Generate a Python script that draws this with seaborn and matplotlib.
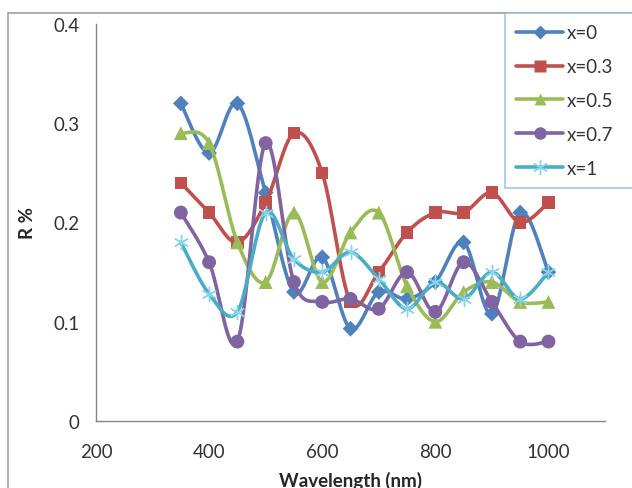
import numpy as np
import pandas as pd
import matplotlib
matplotlib.use("Agg")
import matplotlib.pyplot as plt
from matplotlib.lines import Line2D
import seaborn as sns

sns.set_theme(style="white")
plt.rcParams['font.family'] = ['Lato', 'DejaVu Sans']

# data
wavelength = [350, 400, 450, 500, 550, 600, 650, 700, 750, 800, 850, 900, 950, 1000]
r_x0 = [0.32, 0.27, 0.32, 0.23, 0.13, 0.165, 0.093, 0.13, 0.123, 0.14, 0.18, 0.108, 0.21, 0.15]
r_x03 = [0.24, 0.21, 0.18, 0.22, 0.29, 0.25, 0.12, 0.15, 0.19, 0.21, 0.21, 0.23, 0.20, 0.22]
r_x05 = [0.29, 0.28, 0.18, 0.14, 0.21, 0.14, 0.19, 0.21, 0.136, 0.10, 0.13, 0.14, 0.12, 0.12]
r_x07 = [0.21, 0.16, 0.08, 0.28, 0.14, 0.12, 0.123, 0.113, 0.15, 0.11, 0.16, 0.12, 0.08, 0.08]
r_x1 = [0.18, 0.128, 0.11, 0.21, 0.163, 0.15, 0.17, 0.143, 0.113, 0.14, 0.123, 0.15, 0.123, 0.15]

labels = ["x=0", "x=0.3", "x=0.5", "x=0.7", "x=1"]
series = [r_x0, r_x03, r_x05, r_x07, r_x1]
colors = ["#4F81BD", "#C0504D", "#9BBB59", "#8064A2", "#4BACC6"]
markers = ["D", "s", "^", "o", (6, 2, 0)]
msizes = [8, 9, 10, 10, 11]


def smooth(xs, ys, n=20):
    """Catmull-Rom curve through the points (Excel-like smoothed line)."""
    xs = np.asarray(xs, float)
    ys = np.asarray(ys, float)
    px = np.concatenate([[xs[0]], xs, [xs[-1]]])
    py = np.concatenate([[ys[0]], ys, [ys[-1]]])
    ox, oy = [], []
    t = np.linspace(0, 1, n, endpoint=False)
    for i in range(1, len(px) - 2):
        for p, o in ((px, ox), (py, oy)):
            p0, p1, p2, p3 = p[i - 1], p[i], p[i + 1], p[i + 2]
            c1 = p1 + (p2 - p0) / 6
            c2 = p2 - (p3 - p1) / 6
            o.extend((1 - t) ** 3 * p1 + 3 * (1 - t) ** 2 * t * c1
                     + 3 * (1 - t) * t ** 2 * c2 + t ** 3 * p2)
    ox.append(xs[-1])
    oy.append(ys[-1])
    return np.array(ox), np.array(oy)


fig = plt.figure(figsize=(6.32, 4.89), dpi=100)
ax = fig.add_axes([96 / 632, 67 / 489, 509 / 632, 397 / 489])

for i, (lab, ys) in enumerate(zip(labels, series)):
    sx, sy = smooth(wavelength, ys)
    curve = pd.DataFrame({"x": sx, "y": sy})
    sns.lineplot(data=curve, x="x", y="y", ax=ax, color=colors[i], lw=2.6,
                 sort=False, estimator=None, zorder=2 + i)
    pts = pd.DataFrame({"x": wavelength, "y": ys})
    if i == 4:
        ax.plot(pts["x"], pts["y"], ls="none", marker=markers[i], ms=msizes[i],
                mec="#8ad4e8", mew=1.0, zorder=2 + i)
    else:
        sns.scatterplot(data=pts, x="x", y="y", ax=ax, marker=markers[i],
                        color=colors[i], s=msizes[i] ** 2, edgecolor="none",
                        zorder=2 + i)

ax.set_xlim(200, 1100)
ax.set_ylim(0, 0.4)
ax.set_xticks([200, 400, 600, 800, 1000])
ax.set_yticks([0, 0.1, 0.2, 0.3, 0.4])
ax.set_yticklabels(["0", "0.1", "0.2", "0.3", "0.4"])
ax.tick_params(axis="both", which="both", direction="out", length=5, width=1,
               color="#868686", labelsize=13.5, labelcolor="#333333", pad=7)
ax.tick_params(axis="x", pad=11)
for s in ["top", "right"]:
    ax.spines[s].set_visible(False)
for s in ["left", "bottom"]:
    ax.spines[s].set_color("#868686")
    ax.spines[s].set_linewidth(1)

ax.set_xlabel("Wavelength (nm)", fontsize=13.5, fontweight="bold", labelpad=8)
ax.set_ylabel("R %", fontsize=13.5, fontweight="bold", labelpad=12)
ax.grid(False)

handles = []
for i, lab in enumerate(labels):
    if i == 4:
        h = Line2D([], [], color=colors[i], lw=2.6, marker=markers[i], ms=msizes[i],
                   mec="#8ad4e8", mew=1.0)
    else:
        h = Line2D([], [], color=colors[i], lw=2.6, marker=markers[i], ms=msizes[i] - 1,
                   mec="none")
    handles.append(h)
leg = fig.legend(handles, labels, loc="upper left",
                 bbox_to_anchor=(505 / 632, 1 - 185 / 489, 0.4, 171 / 489),
                 mode="expand", frameon=True, fancybox=False, fontsize=13.5,
                 handlelength=2.5, labelspacing=0.9, borderpad=0.6,
                 handletextpad=0.2, borderaxespad=0)
leg.get_frame().set_edgecolor("#8eb4e3")
leg.get_frame().set_linewidth(1.2)
for t in leg.get_texts():
    t.set_color("#333333")

# outer chart border
fig.add_artist(Line2D([8 / 632, 8 / 632], [0, 1 - 14 / 489], transform=fig.transFigure,
                      color="#a0a0a0", lw=1.2))
fig.add_artist(Line2D([8 / 632, 1], [1 - 14 / 489, 1 - 14 / 489], transform=fig.transFigure,
                      color="#a0a0a0", lw=1.2))

fig.savefig("out.png", dpi=100)
